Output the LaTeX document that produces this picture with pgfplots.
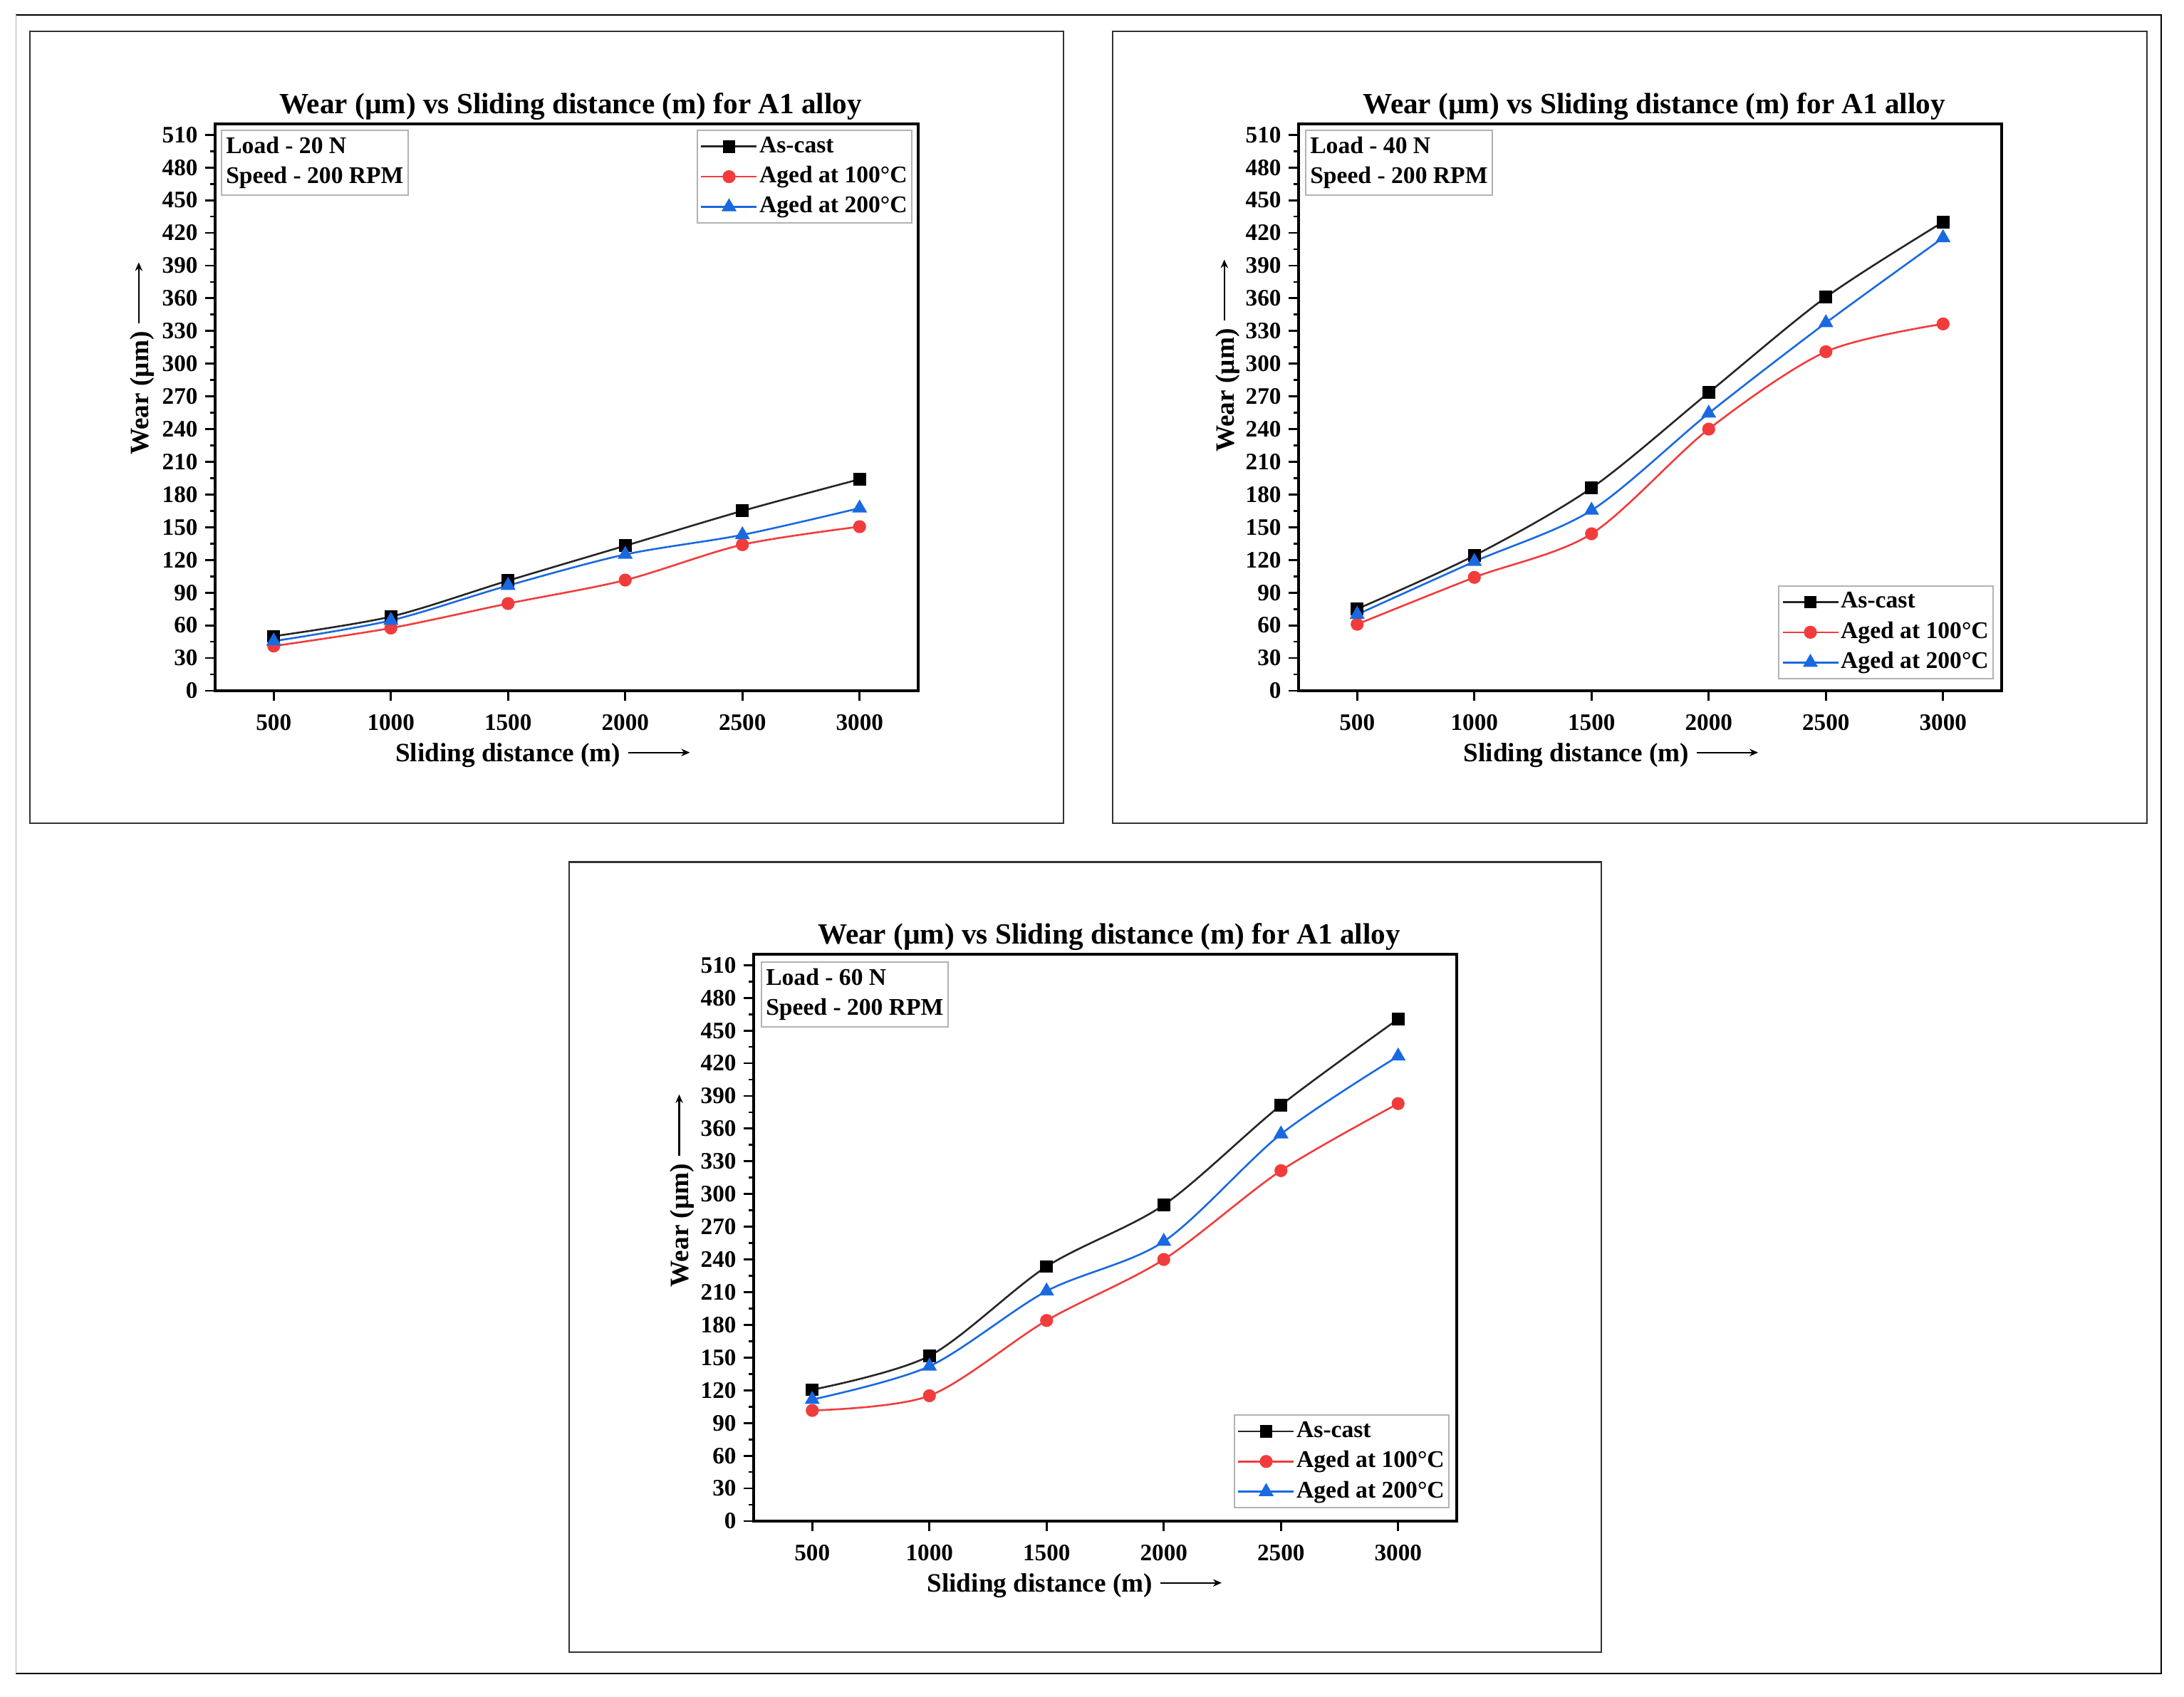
\documentclass[border=0pt]{standalone}
\usepackage{fontspec}
\setmainfont{Liberation Serif}
\usepackage{pgfplots}
\pgfplotsset{compat=1.18}
\usetikzlibrary{arrows.meta}

\definecolor{cred}{RGB}{242,60,60}
\definecolor{cblue}{RGB}{25,105,225}

\newcommand{\lblarrow}{\hspace{2.5pt}\tikz[baseline=0pt]\draw[line width=0.55pt,-{Stealth[length=3pt,width=2.6pt]}] (0pt,3.3pt) -- (21.5pt,3.3pt);}

\tikzset{
  loadbox/.style={draw=gray!60, line width=0.5pt, anchor=north west, align=left,
    font=\fontsize{8.4}{10.5}\selectfont\bfseries, inner xsep=1.6pt, inner ysep=1.4pt,
    minimum width=65.25pt, minimum height=22.75pt},
}

\pgfplotsset{
  wearaxis/.style={
    scale only axis, width=246.75pt, height=199pt,
    anchor=south west,
    xmin=250, xmax=3250, ymin=0, ymax=520,
    xtick={500,1000,...,3000}, ytick={0,30,...,510},
    minor y tick num=1,
    tick pos=left, tick align=outside,
    major tick length=3.4pt, minor tick length=1.8pt,
    every tick/.style={line width=0.7pt, black},
    axis line style={line width=0.8pt, black},
    /pgf/number format/assume math mode=true,
    /pgf/number format/1000 sep={},
    ticklabel style={font=\fontsize{8.3}{9}\selectfont\bfseries},
    xticklabel style={yshift=-1.5pt},
    yticklabel style={xshift=0.8pt},
    every axis title shift=0pt,
    title style={font=\fontsize{10.3}{12}\selectfont\bfseries, at={(axis description cs:0.5056,1.0176)}, anchor=base},
    label style={font=\fontsize{9.3}{11}\selectfont\bfseries, inner sep=0pt},
    title={Wear (µm) vs Sliding distance (m) for A1 alloy},
    xlabel={Sliding distance (m)\lblarrow},
    ylabel={Wear (µm)\lblarrow},
    legend cell align=left,
    legend style={draw=gray!60, line width=0.5pt, fill=white,
      font=\fontsize{8.4}{9}\selectfont\bfseries,
      inner xsep=1pt, inner ysep=1.2pt, row sep=1.6pt,
      nodes={inner sep=0.6pt, text height=6pt, text depth=1.8pt}},
    legend image code/.code={\draw[mark repeat=2,mark phase=2] plot coordinates {(0pt,0pt) (9.75pt,0pt) (19.5pt,0pt)};},
  },
  ascast/.style={black!85, line width=0.65pt, smooth, tension=0.5, mark=square*, mark size=1.9pt, mark options={black, fill=black}},
  agedA/.style={cred, line width=0.65pt, smooth, tension=0.5, mark=*, mark size=1.95pt, mark options={cred, fill=cred}},
  agedB/.style={cblue, line width=0.65pt, smooth, tension=0.5, mark=triangle*, mark size=2.4pt, mark options={cblue, fill=cblue}},
}

\begin{document}
\begin{tikzpicture}
\path[use as bounding box] (0,0) rectangle (766.5pt,595.75pt);
% outer frame
\draw[black, line width=0.6pt] (5.6pt,590.5pt) -- (758.5pt,590.5pt) -- (758.5pt,8.25pt) -- (5.6pt,8.25pt);
\draw[gray!60, line width=0.4pt] (5.6pt,590.5pt) -- (5.6pt,8.25pt);
% panel frames
\draw[black!80, line width=0.7pt] (10.5pt,306.75pt) rectangle (373.25pt,584.75pt);
\draw[black!80, line width=0.7pt] (390.5pt,306.75pt) rectangle (753.5pt,584.75pt);
\draw[black!80, line width=0.7pt] (199.75pt,15.75pt) rectangle (562pt,293.1pt);

% Load 20 N
\begin{axis}[wearaxis, at={(75.5pt,353.25pt)},
  xlabel style={at={(axis description cs:0.2556,-0.1256)}, anchor=base west},
  ylabel style={at={(axis description cs:-0.0952,0.415)}, anchor=base west},
  legend style={at={(0.992,0.99)}, anchor=north east}]
\addplot[ascast] coordinates {(500,50) (1000,68) (1500,101) (2000,133) (2500,165) (3000,194)};
\addplot[agedA] coordinates {(500,41) (1000,57.5) (1500,80) (2000,101.5) (2500,134) (3000,150.5)};
\addplot[agedB] coordinates {(500,45.5) (1000,64.5) (1500,96.5) (2000,125) (2500,143) (3000,167.5)};
\legend{As-cast, Aged at 100°C, Aged at 200°C}
\node[loadbox] at (axis description cs:0.008,0.99) {Load - 20 N\\Speed - 200 RPM};
\end{axis}

% Load 40 N
\begin{axis}[wearaxis, at={(455.75pt,353.25pt)},
  xlabel style={at={(axis description cs:0.234,-0.1256)}, anchor=base west},
  ylabel style={at={(axis description cs:-0.0922,0.42)}, anchor=base west},
  legend style={at={(0.989,0.02)}, anchor=south east}]
\addplot[ascast] coordinates {(500,75) (1000,124) (1500,186) (2000,273.5) (2500,361) (3000,430)};
\addplot[agedA] coordinates {(500,61) (1000,104) (1500,144) (2000,240) (2500,311) (3000,336.5)};
\addplot[agedB] coordinates {(500,70) (1000,118.5) (1500,165.5) (2000,254.5) (2500,337.5) (3000,415.5)};
\legend{As-cast, Aged at 100°C, Aged at 200°C}
\node[loadbox] at (axis description cs:0.009,0.99) {Load - 40 N\\Speed - 200 RPM};
\end{axis}

% Load 60 N
\begin{axis}[wearaxis, at={(264.5pt,61.75pt)},
  xlabel style={at={(axis description cs:0.246,-0.1256)}, anchor=base west},
  ylabel style={at={(axis description cs:-0.0925,0.412)}, anchor=base west},
  legend style={at={(0.99,0.022)}, anchor=south east}]
\addplot[ascast] coordinates {(500,120.5) (1000,151.5) (1500,233.5) (2000,290) (2500,381.5) (3000,460.5)};
\addplot[agedA] coordinates {(500,101.5) (1000,115) (1500,184) (2000,240) (2500,321.5) (3000,383)};
\addplot[agedB] coordinates {(500,111.5) (1000,142) (1500,211) (2000,256.5) (2500,355) (3000,426.5)};
\legend{As-cast, Aged at 100°C, Aged at 200°C}
\node[loadbox] at (axis description cs:0.01,0.987) {Load - 60 N\\Speed - 200 RPM};
\end{axis}
\end{tikzpicture}
\end{document}
